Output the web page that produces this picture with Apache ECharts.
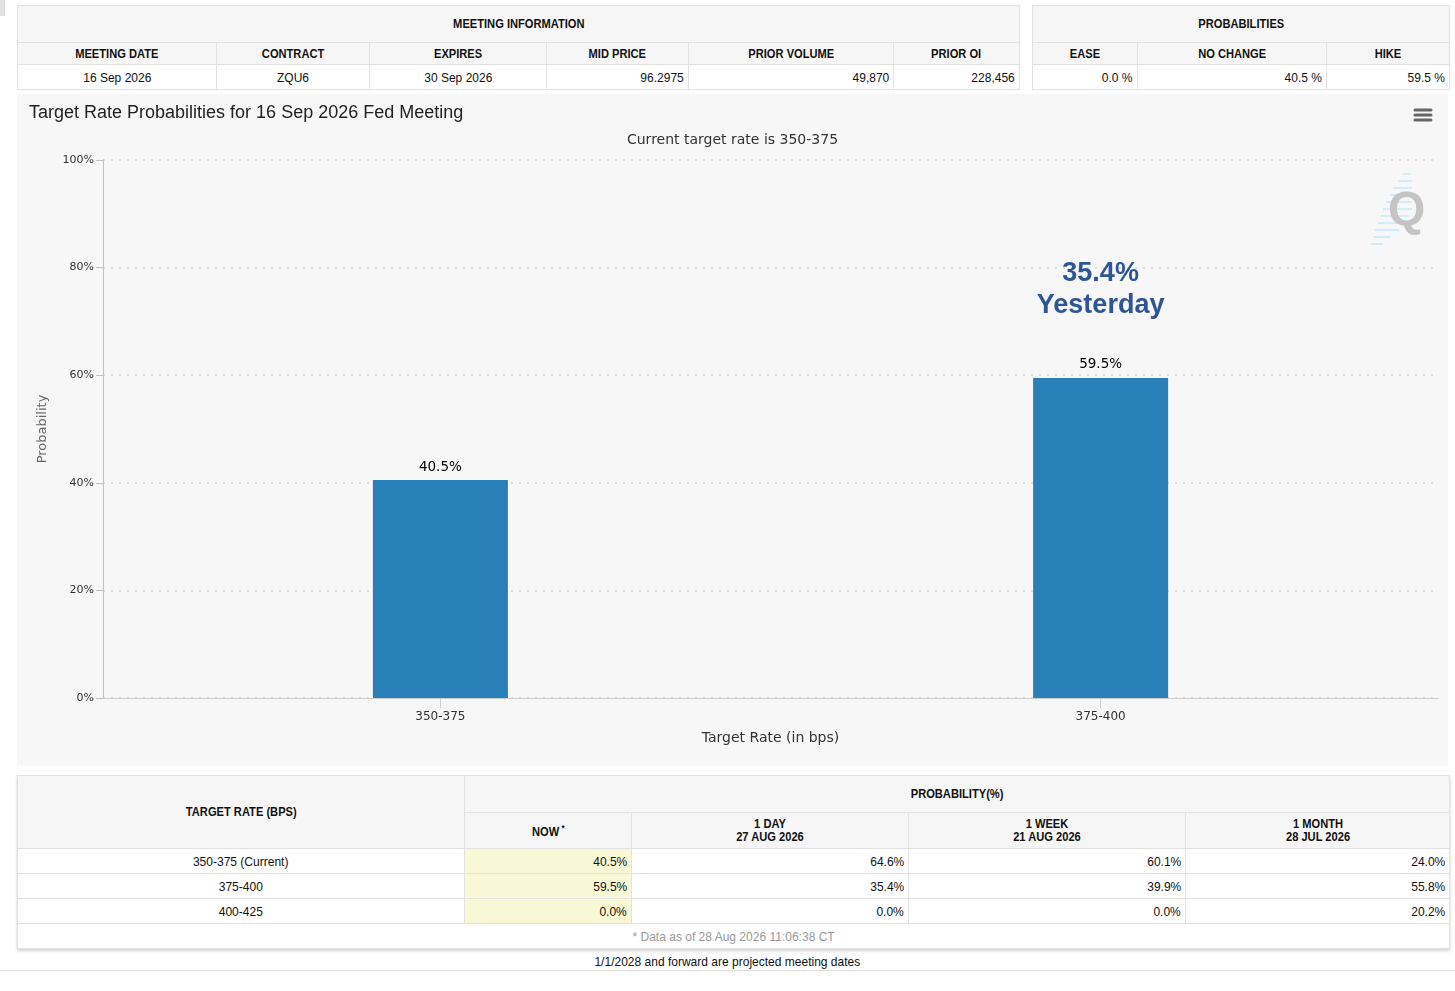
<!DOCTYPE html>
<html>
<head>
<meta charset="utf-8">
<script src="https://cdn.jsdelivr.net/npm/echarts@6/dist/echarts.min.js"></script>
<style>
  html, body { margin: 0; padding: 0; background: #fff; width: 1455px; height: 991px; overflow: hidden; }
  body { position: relative; font-family: "Liberation Sans Narrow", "Liberation Sans", Arial, sans-serif; color: #111; }
  table { border-collapse: collapse; table-layout: fixed; position: absolute; }
  td, th { border: 1px solid #e2e2e2; padding: 0 4px; font-size: 13.5px; white-space: nowrap; overflow: hidden; }
  th { background: #f6f6f6; font-weight: bold; font-size: 12.5px; text-align: center; }
  td { background: #fff; }
  td.c { text-align: center; }
  td.r { text-align: right; }
  td.now { background: #f8f8d6; }
  td.note { text-align: center; color: #999; }
  span.t { display: inline-block; transform: scaleX(0.89); transform-origin: center center; }
  td.r span.t { transform-origin: right center; }
  #chart { position: absolute; left: 17px; top: 94px; width: 1431px; height: 672px; background: #f7f7f7; }
  #bottomTable { box-shadow: 0 2px 3px rgba(0,0,0,0.18); }
  #projected { position: absolute; left: 0; width: 1455px; top: 954px; text-align: center; font-size: 13.5px; }
  #rule { position: absolute; left: 0; width: 1455px; top: 970px; height: 1px; background: #ddd; }
  #corner { position: absolute; left: 0; top: 0; width: 5px; height: 16px; background: #e2e2e2; }
</style>
</head>
<body>
<div id="corner"></div>
<table id="meetingTable" style="left:17px; top:5px; width:1002px;"></table>
<table id="probTable" style="left:1032px; top:5px; width:417px;"></table>
<div id="chart"></div>
<table id="bottomTable" style="left:17px; top:775px; width:1432px;"></table>
<div id="projected"><span class="t">1/1/2028 and forward are projected meeting dates</span></div>
<div id="rule"></div>
<script>
// ---- data ----
var meetingHeaders = ['MEETING DATE', 'CONTRACT', 'EXPIRES', 'MID PRICE', 'PRIOR VOLUME', 'PRIOR OI'];
var meetingValues = ['16 Sep 2026', 'ZQU6', '30 Sep 2026', '96.2975', '49,870', '228,456'];
var meetingAlign = ['c', 'c', 'c', 'r', 'r', 'r'];
var meetingWidths = [199, 153, 177, 142, 205, 126];

var probHeaders = ['EASE', 'NO CHANGE', 'HIKE'];
var probValues = ['0.0 %', '40.5 %', '59.5 %'];
var probWidths = [105, 189, 123];

var chartCategories = ['350-375', '375-400'];
var chartNow = [40.5, 59.5];
var chartYesterday = [64.6, 35.4];
var highlightIndex = 1;

var tableRates = ['350-375 (Current)', '375-400', '400-425'];
var periodHeaders = ['1 DAY', '1 WEEK', '1 MONTH'];
var periodDates = ['27 AUG 2026', '21 AUG 2026', '28 JUL 2026'];
var probNow = [40.5, 59.5, 0.0];
var prob1Day = [64.6, 35.4, 0.0];
var prob1Week = [60.1, 39.9, 0.0];
var prob1Month = [24.0, 55.8, 20.2];
var bottomWidths = [447, 167, 277, 277, 264];

// ---- tables ----
function t(s) { return '<span class="t">' + s + '</span>'; }
function colgroup(w) {
  return '<colgroup>' + w.map(function (x) { return '<col style="width:' + x + 'px">'; }).join('') + '</colgroup>';
}
var h = colgroup(meetingWidths);
h += '<tr style="height:37px"><th colspan="6">' + t('MEETING INFORMATION') + '</th></tr>';
h += '<tr style="height:22px">' + meetingHeaders.map(function (s) { return '<th>' + t(s) + '</th>'; }).join('') + '</tr>';
h += '<tr style="height:25px">' + meetingValues.map(function (s, i) { return '<td class="' + meetingAlign[i] + '">' + t(s) + '</td>'; }).join('') + '</tr>';
document.getElementById('meetingTable').innerHTML = h;

h = colgroup(probWidths);
h += '<tr style="height:37px"><th colspan="3">' + t('PROBABILITIES') + '</th></tr>';
h += '<tr style="height:22px">' + probHeaders.map(function (s) { return '<th>' + t(s) + '</th>'; }).join('') + '</tr>';
h += '<tr style="height:25px">' + probValues.map(function (s) { return '<td class="r">' + t(s) + '</td>'; }).join('') + '</tr>';
document.getElementById('probTable').innerHTML = h;

function pct(v) { return v.toFixed(1) + '%'; }
h = colgroup(bottomWidths);
h += '<tr style="height:37px"><th rowspan="2">' + t('TARGET RATE (BPS)') + '</th><th colspan="4">' + t('PROBABILITY(%)') + '</th></tr>';
h += '<tr style="height:36px"><th style="line-height:13px">' + t('NOW<sup style="font-size:9px"> *</sup>') + '</th>';
periodHeaders.forEach(function (p, i) {
  h += '<th style="line-height:13px">' + t(p + '<br>' + periodDates[i]) + '</th>';
});
h += '</tr>';
tableRates.forEach(function (r, i) {
  h += '<tr style="height:25px"><td class="c">' + t(r) + '</td><td class="r now">' + t(pct(probNow[i])) + '</td><td class="r">' +
    t(pct(prob1Day[i])) + '</td><td class="r">' + t(pct(prob1Week[i])) + '</td><td class="r">' + t(pct(prob1Month[i])) + '</td></tr>';
});
h += '<tr style="height:25px"><td class="note" colspan="5">' + t('* Data as of 28 Aug 2026 11:06:38 CT') + '</td></tr>';
document.getElementById('bottomTable').innerHTML = h;

// ---- chart ----
var chartFont = '"DejaVu Sans", "Lucida Sans Unicode", sans-serif';
var myChart = echarts.init(document.getElementById('chart'));

var qLines = [];
var qDashes = [[1386, 80, 1394], [1381, 87, 1395], [1377, 94, 1395], [1373, 101, 1395], [1369, 108, 1395],
  [1366, 115, 1395], [1364, 122, 1392], [1361, 129, 1388], [1358, 136, 1382], [1356, 143, 1374], [1354, 150, 1366]];
qDashes.forEach(function (d) {
  qLines.push({ type: 'line', shape: { x1: d[0], y1: d[1], x2: d[2], y2: d[1] }, style: { stroke: '#d3ecf8', lineWidth: 2 }, z: 1 });
});

var option = {
  backgroundColor: '#f7f7f7',
  animation: false,
  title: [
    {
      text: 'Target Rate Probabilities for 16 Sep 2026 Fed Meeting',
      left: 12, top: 10, padding: 0,
      textStyle: { fontFamily: '"Liberation Sans", Arial, sans-serif', fontSize: 18, fontWeight: 'normal', color: '#222' }
    },
    {
      text: 'Current target rate is 350-375',
      left: 'center', top: 39, padding: 0,
      textStyle: { fontFamily: chartFont, fontSize: 14, fontWeight: 'normal', color: '#333' }
    }
  ],
  grid: { left: 86, right: 10, top: 66, bottom: 68 },
  xAxis: {
    type: 'value',
    min: -0.511,
    max: 1.511,
    name: 'Target Rate (in bps)',
    nameLocation: 'middle',
    nameGap: 33,
    nameTextStyle: { fontFamily: chartFont, fontSize: 14, color: '#333' },
    axisLine: { show: true, onZero: false, lineStyle: { color: '#ccc', width: 1 } },
    axisTick: { show: true, customValues: [0, 1], length: 10, lineStyle: { color: '#ccc' } },
    axisLabel: {
      customValues: [0, 1],
      margin: 13,
      fontFamily: chartFont, fontSize: 12, color: '#333',
      formatter: function (v) { return chartCategories[Math.round(v)]; }
    },
    splitLine: { show: false }
  },
  yAxis: {
    type: 'value',
    min: 0, max: 100, interval: 20,
    name: 'Probability',
    nameLocation: 'middle',
    nameGap: 54,
    nameTextStyle: { fontFamily: chartFont, fontSize: 13, color: '#666' },
    axisLine: { show: true, onZero: false, lineStyle: { color: '#c0c0c0', width: 1 } },
    axisTick: { show: true, length: 7, lineStyle: { color: '#c0c0c0' } },
    axisLabel: { margin: 9, fontFamily: chartFont, fontSize: 11, color: '#333', formatter: '{value}%' },
    splitLine: { show: true, lineStyle: { color: '#dcdcdc', width: 2, type: [2, 6] } }
  },
  series: [{
    type: 'bar',
    barWidth: 135,
    data: chartNow.map(function (v, i) { return [i, v]; }),
    itemStyle: { color: '#297fb8' },
    label: {
      show: true,
      position: 'top',
      distance: 3,
      formatter: function (p) {
        var v = '{v|' + pct(p.value[1]) + '}';
        if (p.dataIndex === highlightIndex) {
          return '{y|' + pct(chartYesterday[p.dataIndex]) + '}\n{y|Yesterday}\n{s| }\n' + v;
        }
        return v;
      },
      rich: {
        v: { fontFamily: chartFont, fontSize: 13.5, color: '#000', lineHeight: 20, align: 'center' },
        y: { fontFamily: '"Liberation Sans", Arial, sans-serif', fontSize: 27, fontWeight: 'bold', color: '#2f5597', lineHeight: 32, align: 'center' },
        s: { fontSize: 10, lineHeight: 33 }
      }
    }
  }],
  graphic: qLines.concat([
    { type: 'text', left: 1371, top: 94, z: 2, style: { text: 'Q', fontFamily: '"Liberation Sans", Arial, sans-serif', fontWeight: 'bold', fontSize: 48, fill: '#c4c4c4' } },
    { type: 'line', shape: { x1: 1398, y1: 16, x2: 1414, y2: 16 }, style: { stroke: '#666', lineWidth: 3, lineCap: 'round' } },
    { type: 'line', shape: { x1: 1398, y1: 21, x2: 1414, y2: 21 }, style: { stroke: '#666', lineWidth: 3, lineCap: 'round' } },
    { type: 'line', shape: { x1: 1398, y1: 26, x2: 1414, y2: 26 }, style: { stroke: '#666', lineWidth: 3, lineCap: 'round' } }
  ])
};
myChart.setOption(option);
</script>
</body>
</html>
